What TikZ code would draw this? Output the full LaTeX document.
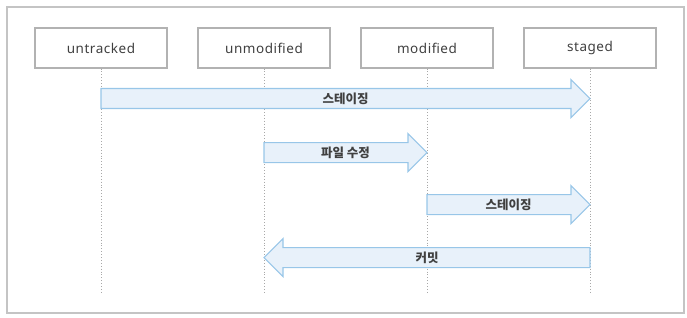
\documentclass[tikz,border=0pt]{standalone}
\usepackage{fontspec}
\setmainfont{Noto Sans}
\newfontfamily\kr{Noto Sans CJK KR}
\usetikzlibrary{calc}
\definecolor{framegray}{HTML}{C4C4C4}
\definecolor{boxgray}{HTML}{B2B2B2}
\definecolor{linegray}{HTML}{A8A8A8}
\definecolor{arrowfill}{HTML}{E8F1FA}
\definecolor{arrowdraw}{HTML}{98C6E8}
\definecolor{textgray}{HTML}{404040}
\tikzset{
  frame/.style={draw=framegray, line width=1.6pt},
  statebox/.style={draw=boxgray, line width=1.1pt, minimum width=132pt, minimum height=40pt,
    inner sep=0pt, text=textgray, font=\fontsize{13.5}{15}\selectfont\addfontfeature{LetterSpace=4}},
  lifeline/.style={draw=linegray, line width=0.9pt, dotted},
  blockarrow/.style={draw=arrowdraw, fill=arrowfill, line width=1.1pt, line join=miter},
  arrowlabel/.style={text=textgray, inner sep=0pt, font=\kr\bfseries\fontsize{12.5}{14}\selectfont}
}
\begin{document}
\begin{tikzpicture}[x=1pt,y=-1pt]
\useasboundingbox (0,0) rectangle (687,318);
\draw[frame] (7,7) rectangle (684,313);

\node[statebox] (ut) at (101,48) {untracked};
\node[statebox] (um) at (264,48) {unmodified};
\node[statebox] (md) at (427,48) {modified};
\node[statebox] (st) at (590,48) {staged};

\foreach \n in {ut,um,md,st}{
  \coordinate (\n E) at ($(\n.south)+(0,225)$);
  \draw[lifeline] (\n.south) -- (\n E);
}

\def\hl{19}\def\hh{19}\def\bh{10}
% arrow 1: untracked -> staged
\coordinate (a1s) at ($(ut.south)+(0,30)$);
\coordinate (a1e) at ($(st.south)+(0,30)$);
\draw[blockarrow] ($(a1s)+(0,-\bh)$) -- ($(a1e)+(-\hl,-\bh)$) -- ($(a1e)+(-\hl,-\hh)$)
  -- (a1e) -- ($(a1e)+(-\hl,\hh)$) -- ($(a1e)+(-\hl,\bh)$) -- ($(a1s)+(0,\bh)$) -- cycle;
\node[arrowlabel] (l1) at ($(a1s)!0.5!(a1e)$) {스테이징};

% arrow 2: unmodified -> modified
\coordinate (a2s) at ($(um.south)+(0,84)$);
\coordinate (a2e) at ($(md.south)+(0,84)$);
\draw[blockarrow] ($(a2s)+(0,-\bh)$) -- ($(a2e)+(-\hl,-\bh)$) -- ($(a2e)+(-\hl,-\hh)$)
  -- (a2e) -- ($(a2e)+(-\hl,\hh)$) -- ($(a2e)+(-\hl,\bh)$) -- ($(a2s)+(0,\bh)$) -- cycle;
\node[arrowlabel] (l2) at ($(a2s)!0.5!(a2e)$) {파일 수정};

% arrow 3: modified -> staged
\coordinate (a3s) at ($(md.south)+(0,136)$);
\coordinate (a3e) at ($(st.south)+(0,136)$);
\draw[blockarrow] ($(a3s)+(0,-\bh)$) -- ($(a3e)+(-\hl,-\bh)$) -- ($(a3e)+(-\hl,-\hh)$)
  -- (a3e) -- ($(a3e)+(-\hl,\hh)$) -- ($(a3e)+(-\hl,\bh)$) -- ($(a3s)+(0,\bh)$) -- cycle;
\node[arrowlabel] (l3) at ($(a3s)!0.5!(a3e)$) {스테이징};

% arrow 4: staged -> unmodified (left)
\coordinate (a4s) at ($(st.south)+(0,189)$);
\coordinate (a4e) at ($(um.south)+(0,189)$);
\draw[blockarrow] ($(a4s)+(0,-\bh)$) -- ($(a4e)+(\hl,-\bh)$) -- ($(a4e)+(\hl,-\hh)$)
  -- (a4e) -- ($(a4e)+(\hl,\hh)$) -- ($(a4e)+(\hl,\bh)$) -- ($(a4s)+(0,\bh)$) -- cycle;
\node[arrowlabel] (l4) at ($(a4s)!0.5!(a4e)$) {커밋};
\end{tikzpicture}
\end{document}
